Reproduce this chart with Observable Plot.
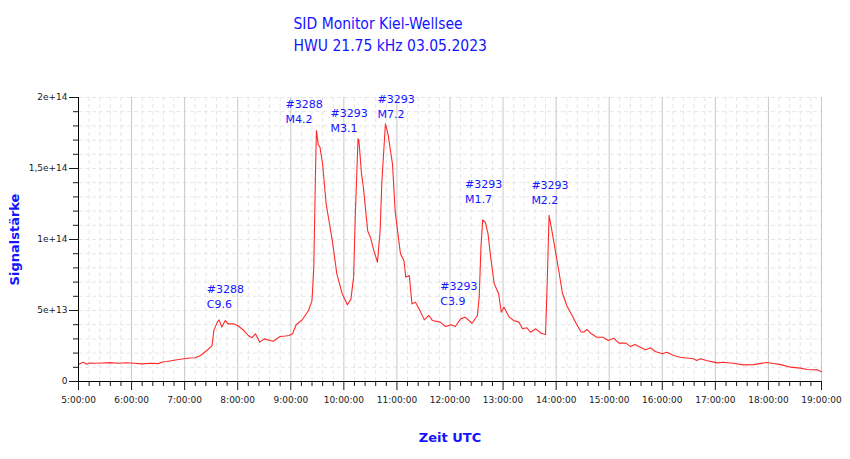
<!DOCTYPE html>
<html><head><meta charset="utf-8">
<script src="https://cdn.jsdelivr.net/npm/d3@7"></script>
<script src="https://cdn.jsdelivr.net/npm/@observablehq/plot@0.6"></script>
<style>body{margin:0;background:#fff}</style>
</head><body><div id="chart"></div>
<script>
// Time of sample (UTC, 03.05.2023) and signal strength (units of 1e12)
const times = ["05:00","05:03","05:06","05:09","05:12","05:18","05:27","05:36","05:45","05:54","06:03","06:12","06:21","06:30","06:36","06:40","06:48","06:59","07:06","07:12","07:18","07:25","07:31","07:33","07:37","07:39","07:42","07:46","07:49","07:55","08:00","08:07","08:12","08:16","08:20","08:25","08:30","08:40","08:48","08:54","08:58","09:02","09:06","09:13","09:20","09:24","09:26","09:28","09:29","09:31","09:33","09:36","09:40","09:47","09:52","09:58","10:04","10:08","10:11","10:13","10:16","10:17","10:20","10:22","10:27","10:30","10:34","10:38","10:41","10:43","10:47","10:50","10:55","10:58","11:04","11:08","11:10","11:14","11:17","11:21","11:26","11:31","11:36","11:40","11:49","11:55","12:01","12:06","12:12","12:17","12:25","12:31","12:33","12:35","12:37","12:40","12:43","12:46","12:50","12:55","12:58","13:01","13:07","13:12","13:18","13:22","13:27","13:31","13:37","13:43","13:48","13:50","13:52","13:55","13:58","14:03","14:07","14:12","14:18","14:23","14:28","14:31","14:35","14:39","14:46","14:53","14:59","15:05","15:11","15:19","15:24","15:29","15:35","15:41","15:47","15:52","16:00","16:05","16:13","16:20","16:35","16:39","16:43","16:50","17:02","17:09","17:20","17:32","17:43","17:58","18:06","18:14","18:25","18:36","18:44","18:55","19:00"];
const values = [12.0,13.0,13.5,12.2,13.0,12.8,13.0,13.3,12.8,13.2,12.9,12.4,12.9,12.6,13.9,14.1,15.0,16.0,16.5,16.7,18.3,21.8,25.3,36,41.8,43.4,38.3,43,40.6,40.6,39.4,35.9,32.4,30.8,33.6,27.7,30,28.4,31.7,32,32.4,33.6,40,43.5,50,57,80,150,176.8,167,165,153,125,99,76,62,54,58,73.5,118,171,170,146,137,106,101.6,92,84,106,141,181.5,174,153,120,90,85,73.5,74.6,54.7,55.8,50,43.4,46.5,43,41.8,38.7,39.9,38.7,44.1,45.3,41,46.5,59.4,94.6,113.9,112,104,87.5,68.8,61.8,48.8,52.3,45.3,43,41.8,37.1,37.8,34.7,37.1,34,33.1,71,117,107,96,78,62.5,53.5,46.5,40.5,35,34.7,36.6,34,31.2,31.2,28.9,30.5,27,27,24.6,26,24.2,22.3,23.7,21.1,19.5,20.6,18.3,17.1,16,14.8,16,14.8,13.1,13.6,12.9,11.7,11.9,13.4,12.7,11.9,10.1,9.4,8.5,8.2,6.8];

// Flare annotations
const annoTimes = ["07:25","08:54","09:45","10:38","11:49","12:17","13:32"];
const annoValues = [69.5,200,193.4,203.5,71.6,143.6,142.9];
const annoLabels = ["#3288\nC9.6","#3288\nM4.2","#3293\nM3.1","#3293\nM7.2","#3293\nC3.9","#3293\nM1.7","#3293\nM2.2"];

// Axis ticks
const yTicks = [0, 5e13, 1e14, 1.5e14, 2e14];
const yTickLabels = ["0","5e+13","1e+14","1,5e+14","2e+14"];
const xStart = "05:00", xEnd = "19:00";

const titleLines = ["SID Monitor Kiel-Wellsee","HWU 21.75 kHz 03.05.2023"];
const xLabel = "Zeit UTC";
const yLabel = "Signalstärke";

const parseT = s => { const [h,m] = s.split(":").map(Number); return new Date(Date.UTC(2023,4,3,h,m)); };
const data = times.map((t,i)=>({t: parseT(t), v: values[i]*1e12}));
const annos = annoTimes.map((t,i)=>({t: parseT(t), v: annoValues[i]*1e12, label: annoLabels[i]}));
const t0 = parseT(xStart), t1 = parseT(xEnd);
const hourTicks = d3.utcHour.range(t0, new Date(+t1+1));
const minorX = d3.utcMinute.every(12).range(t0, new Date(+t1+1)).filter(d => d.getUTCMinutes() !== 0);
const minorY = d3.range(0, 2.01e14, 1e13).filter(v => v % 5e13 !== 0);
const allY = d3.range(1e13, 2.01e14, 1e13);

const blue = "#1414ff";
const chart = Plot.plot({
  width: 850, height: 459,
  marginTop: 97, marginRight: 29, marginBottom: 78, marginLeft: 78,
  style: {fontFamily: "DejaVu Sans", fontSize: "9px", color: "#1a1a1a", background: "#fff"},
  x: {type: "utc", domain: [t0, t1]},
  y: {domain: [0, 2e14]},
  marks: [
    Plot.gridX(minorX, {stroke: "#e6e6e6", strokeOpacity: 1, strokeDasharray: "4,3"}),
    Plot.gridY(allY, {stroke: "#e6e6e6", strokeOpacity: 1, strokeDasharray: "4,3"}),
    Plot.gridX(hourTicks, {stroke: "#c8c8c8", strokeOpacity: 1}),
    Plot.line(data, {x: "t", y: "v", stroke: "#ff2a2a", strokeWidth: 1.1}),
    Plot.axisX(hourTicks, {tickSize: 9, tickPadding: 6, tickFormat: d3.utcFormat("%-H:%M:%S"), label: null}),
    Plot.axisX(minorX, {tickSize: 5, tickFormat: () => "", label: null}),
    Plot.axisY(yTicks, {tickSize: 9, tickPadding: 2, tickFormat: (d,i) => yTickLabels[i], label: null}),
    Plot.axisY(minorY, {tickSize: 5, tickFormat: () => "", label: null}),
    Plot.ruleY([0], {stroke: "#000"}),
    Plot.ruleX([t0], {stroke: "#000"}),
    Plot.text(annos, {x: "t", y: "v", text: "label", textAnchor: "start", lineAnchor: "top", fill: blue, fontSize: 11, lineHeight: 1.36}),
    Plot.text([titleLines.join("\n")], {frameAnchor: "top-left", dx: 215, dy: -84, textAnchor: "start", lineAnchor: "top", fill: blue, fontSize: 15.5, lineHeight: 1.42, fontFamily: "Liberation Sans Narrow, DejaVu Sans Condensed, sans-serif"}),
    Plot.text([xLabel], {frameAnchor: "bottom", dy: 56, lineAnchor: "middle", fill: blue, fontSize: 13, fontWeight: "bold"}),
    Plot.text([yLabel], {frameAnchor: "left", dx: -64, rotate: -90, textAnchor: "middle", lineAnchor: "middle", fill: blue, fontSize: 13, fontWeight: "bold"})
  ]
});
document.getElementById("chart").appendChild(chart);
</script>
</body></html>
